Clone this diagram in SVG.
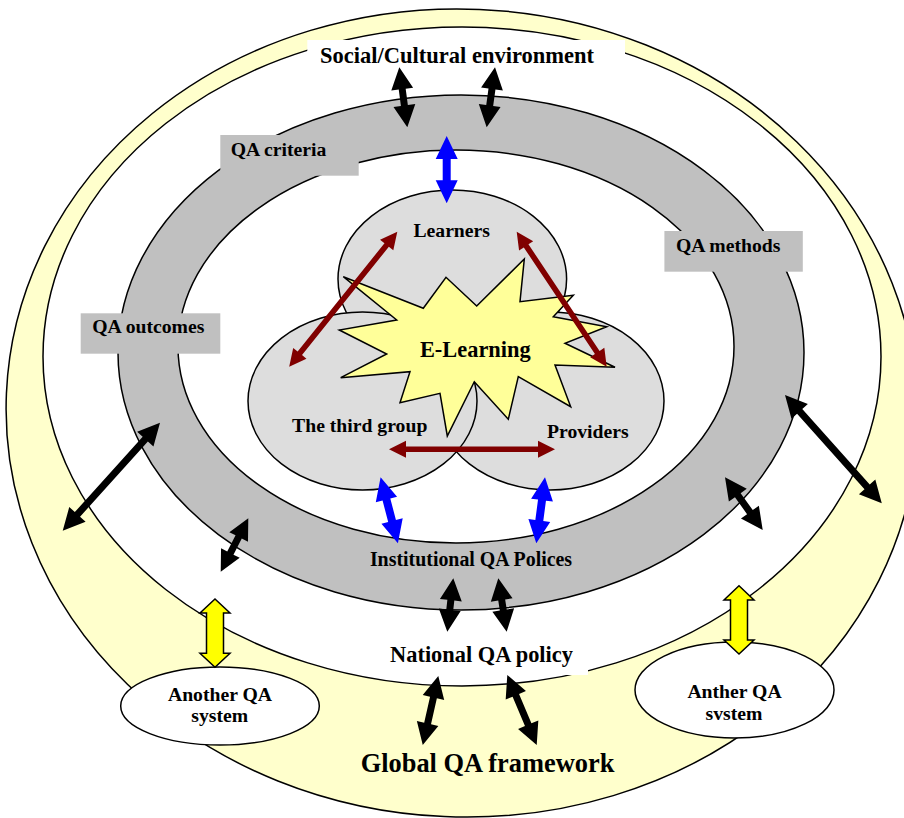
<svg xmlns="http://www.w3.org/2000/svg" width="904" height="818" viewBox="0 0 904 818">
<style>
text { font-family: "Liberation Serif", "Times New Roman", serif; font-weight: bold; fill: #000; }
.ln { stroke: #000; stroke-width: 1.5; }
.lbl { font-size: 19.7px; }
.mid { text-anchor: middle; }
.box { fill: #C0C0C0; }
.grp { fill: #DDDDDD; stroke: #000; stroke-width: 1.5; }
.sys { fill: #FFFFFF; stroke: #000; stroke-width: 1.5; }
.blk { fill: #000; }
.blu { fill: #0000FF; }
.red { fill: #800000; }
.ylw { fill: #FFFF00; stroke: #000; stroke-width: 1.5; }
</style>
<rect x="0" y="0" width="904" height="818" fill="#FFFFFF"/>

<g id="global-framework">
  <ellipse cx="462" cy="413" rx="456" ry="404" fill="#FFFFCC" class="ln" transform="rotate(2.5 462 413)"/>
</g>
<g id="national-policy-area">
  <ellipse cx="462" cy="356.5" rx="419" ry="329.5" fill="#FFFFFF" class="ln"/>
</g>
<g id="institutional-ring">
  <ellipse cx="461" cy="352.5" rx="343" ry="257.5" fill="#C0C0C0" class="ln"/>
  <ellipse cx="456" cy="346.5" rx="278" ry="196.5" fill="#FFFFFF" class="ln"/>
</g>

<g id="learners">
  <ellipse cx="452.3" cy="279" rx="114.3" ry="89" class="grp"/>
</g>
<g id="providers">
  <ellipse cx="550" cy="401" rx="114" ry="89" class="grp"/>
</g>
<g id="third-group">
  <ellipse cx="362.5" cy="401" rx="114.5" ry="89" class="grp"/>
</g>
<g id="e-learning">
  <polygon fill="#FFFF99" class="ln" points="343.3,276.7 423.3,308.3 446,277.3 476.7,306 524.3,259 520,301.7 573.3,295.3 553.3,316.7 606.7,326.7 565,343.3 615,367.3 555,365 570.7,406.7 518.3,376.7 508.3,419.3 474.3,381.7 447.3,436 440,393.3 400,402.7 410,371.7 340.7,377.7 386.7,354 339.3,330 396.7,320"/>
  <text x="475.3" y="357" class="mid" font-size="22.4px">E-Learning</text>
</g>

<g id="another-qa-system">
  <ellipse cx="220" cy="706" rx="99.3" ry="39" class="sys"/>
  <text x="220" y="700.7" class="mid lbl" font-size="19.5px">Another QA</text>
  <text x="219.7" y="721.7" class="mid lbl" font-size="19.5px">system</text>
</g>
<g id="anther-qa-system">
  <ellipse cx="734.5" cy="690" rx="99.5" ry="48" class="sys"/>
  <text x="734.5" y="698.3" class="mid lbl" font-size="19.5px">Anther QA</text>
  <text x="734" y="720" class="mid lbl" font-size="19.5px">svstem</text>
</g>

<g id="qa-criteria">
  <rect x="220.3" y="135" width="138.4" height="40.7" class="box"/>
  <text x="230.7" y="156" class="lbl">QA criteria</text>
</g>
<g id="qa-methods">
  <rect x="664.4" y="231" width="138.4" height="40.7" class="box"/>
  <text x="676" y="252.3" class="lbl">QA methods</text>
</g>
<g id="qa-outcomes">
  <rect x="80.7" y="313.3" width="139.6" height="40.4" class="box"/>
  <text x="92.3" y="332.7" class="lbl">QA outcomes</text>
</g>

<g id="social-cultural">
  <rect x="307.3" y="40" width="317.7" height="34" fill="#FFFFFF"/>
  <text x="457" y="63" class="mid" font-size="22.5px">Social/Cultural environment</text>
</g>
<g id="national-qa-policy">
  <rect x="382" y="640" width="206" height="35" fill="#FFFFFF"/>
  <text x="481.5" y="662" class="mid" font-size="22.4px">National QA policy</text>
</g>

<g id="node-labels">
  <text x="451.7" y="237" class="mid lbl">Learners</text>
  <text x="359.7" y="431.7" class="mid lbl">The third group</text>
  <text x="587.8" y="437.7" class="mid lbl">Providers</text>
  <text x="471" y="565.7" class="mid" font-size="19.9px">Institutional QA Polices</text>
  <text x="487.5" y="771.5" class="mid" font-size="26.4px">Global QA framework</text>
</g>

<g id="connectors">
  <!-- black double arrows -->
  <path class="blk" transform="translate(399.3,67.3) rotate(82.4)" d="M0,0 L22,-11 L22,-3.5 L38.5,-3.5 L38.5,-11 L60.5,0 L38.5,11 L38.5,3.5 L22,3.5 L22,11 Z"/>
  <path class="blk" transform="translate(495,67.3) rotate(97.9)" d="M0,0 L22,-11 L22,-3.5 L38.6,-3.5 L38.6,-11 L60.6,0 L38.6,11 L38.6,3.5 L22,3.5 L22,11 Z"/>
  <path class="blk" transform="translate(160,422.7) rotate(132)" d="M0,0 L22,-11 L22,-3.5 L123.4,-3.5 L123.4,-11 L145.4,0 L123.4,11 L123.4,3.5 L22,3.5 L22,11 Z"/>
  <path class="blk" transform="translate(248.3,518.3) rotate(117.3)" d="M0,0 L21,-10.5 L21,-3.5 L39.1,-3.5 L39.1,-10.5 L60.1,0 L39.1,10.5 L39.1,3.5 L21,3.5 L21,10.5 Z"/>
  <path class="blk" transform="translate(785,395) rotate(48.2)" d="M0,0 L22,-11 L22,-3.5 L123.2,-3.5 L123.2,-11 L145.2,0 L123.2,11 L123.2,3.5 L22,3.5 L22,11 Z"/>
  <path class="blk" transform="translate(725,477.3) rotate(54.4)" d="M0,0 L22,-11 L22,-3.5 L42.8,-3.5 L42.8,-11 L64.8,0 L42.8,11 L42.8,3.5 L22,3.5 L22,11 Z"/>
  <path class="blk" transform="translate(453.3,578.3) rotate(96.4)" d="M0,0 L22,-11 L22,-3.5 L31.7,-3.5 L31.7,-11 L53.7,0 L31.7,11 L31.7,3.5 L22,3.5 L22,11 Z"/>
  <path class="blk" transform="translate(498.3,578.3) rotate(81.1)" d="M0,0 L22,-11 L22,-3.5 L32.1,-3.5 L32.1,-11 L54.1,0 L32.1,11 L32.1,3.5 L22,3.5 L22,11 Z"/>
  <path class="blk" transform="translate(438.3,676) rotate(102.7)" d="M0,0 L22,-11 L22,-3.5 L48.7,-3.5 L48.7,-11 L70.7,0 L48.7,11 L48.7,3.5 L22,3.5 L22,11 Z"/>
  <path class="blk" transform="translate(507.3,675) rotate(67.2)" d="M0,0 L22,-11 L22,-3.5 L53.9,-3.5 L53.9,-11 L75.9,0 L53.9,11 L53.9,3.5 L22,3.5 L22,11 Z"/>
  <!-- blue double arrows -->
  <path class="blu" transform="translate(446.7,136) rotate(90)" d="M0,0 L23,-11 L23,-4 L44.3,-4 L44.3,-11 L67.3,0 L44.3,11 L44.3,4 L23,4 L23,11 Z"/>
  <path class="blu" transform="translate(380.6,477.3) rotate(75.3)" d="M0,0 L23,-11 L23,-4 L45.2,-4 L45.2,-11 L68.2,0 L45.2,11 L45.2,4 L23,4 L23,11 Z"/>
  <path class="blu" transform="translate(545,477.3) rotate(97.5)" d="M0,0 L23,-11 L23,-4 L43.6,-4 L43.6,-11 L66.6,0 L43.6,11 L43.6,4 L23,4 L23,11 Z"/>
  <!-- dark red double arrows -->
  <path class="red" transform="translate(397.3,231.7) rotate(128.7)" d="M0,0 L17,-8.5 L17,-2.8 L155.9,-2.8 L155.9,-8.5 L172.9,0 L155.9,8.5 L155.9,2.8 L17,2.8 L17,8.5 Z"/>
  <path class="red" transform="translate(516.7,231.7) rotate(56.3)" d="M0,0 L17,-8.5 L17,-2.8 L145.2,-2.8 L145.2,-8.5 L162.2,0 L145.2,8.5 L145.2,2.8 L17,2.8 L17,8.5 Z"/>
  <path class="red" transform="translate(389,449.3)" d="M0,0 L17,-8.5 L17,-2.8 L149,-2.8 L149,-8.5 L166,0 L149,8.5 L149,2.8 L17,2.8 L17,8.5 Z"/>
  <!-- yellow block arrows -->
  <polygon class="ylw" points="215,599 230,613 223.5,613 223.5,653.3 230,653.3 215,667.3 200,653.3 206.5,653.3 206.5,613 200,613"/>
  <polygon class="ylw" points="739,585.7 754,600 747.5,600 747.5,640 754,640 739,654 724,640 730.5,640 730.5,600 724,600"/>
</g>
</svg>
